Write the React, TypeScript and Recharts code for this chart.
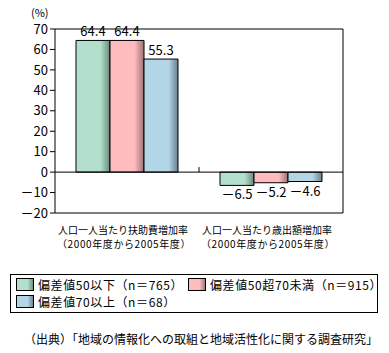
import { BarChart, Bar, XAxis, YAxis, ReferenceLine, LabelList } from "recharts";

const categories = [
  ["人口一人当たり扶助費増加率", "（2000年度から2005年度）"],
  ["人口一人当たり歳出額増加率", "（2000年度から2005年度）"],
];
const low = [64.4, -6.5];
const mid = [64.4, -5.2];
const high = [55.3, -4.6];
const seriesNames = ["偏差値50以下（n＝765）", "偏差値50超70未満（n＝915）", "偏差値70以上（n＝68）"];
const yTicks = [-20, -10, 0, 10, 20, 30, 40, 50, 60, 70];

const FONT = "'Noto Sans CJK JP', sans-serif";
const COLORS = [
  { id: "gLow", main: "#b3e0cd", dark: "#688a7b" },
  { id: "gMid", main: "#ffbcbe", dark: "#9c7476" },
  { id: "gHigh", main: "#b3d6e7", dark: "#687f8f" },
];

const data = categories.map((c, i) => ({ name: c.join("\n"), low: low[i], mid: mid[i], high: high[i] }));

const fmt = (v: number) => (v < 0 ? "－" + Math.abs(v) : String(v));

function ValueLabel(props: any) {
  const { x, y, width, height, value } = props;
  const top = Math.min(y, y + height);
  const bottom = Math.max(y, y + height);
  const cx = x + width / 2;
  if (value >= 0) {
    return (
      <text x={cx} y={top - 4} textAnchor="middle" fontSize={13} fill="#000" fontFamily={FONT}>
        {fmt(value)}
      </text>
    );
  }
  return (
    <text x={cx} y={bottom + 14} textAnchor="middle" fontSize={13} fill="#000" fontFamily={FONT}>
      {fmt(value)}
    </text>
  );
}

function CatTick(props: any) {
  const { x, y, payload } = props;
  const lines = String(payload.value).split("\n");
  return (
    <g>
      <text x={x - 4} y={y + 13} textAnchor="middle" fontSize={10} fill="#000" fontFamily={FONT}>
        {lines[0]}
      </text>
      <text x={x - 3} y={y + 27} textAnchor="middle" fontSize={10} letterSpacing={0.6} fill="#000" fontFamily={FONT}>
        {lines[1]}
      </text>
    </g>
  );
}

function ZeroLine(props: any) {
  const { x1, x2, y1 } = props;
  const midX = (x1 + x2) / 2;
  return (
    <g>
      <line x1={x1} x2={x2} y1={y1} y2={y1} stroke="#000" strokeWidth={1} />
      <line x1={midX} x2={midX} y1={y1 - 5} y2={y1} stroke="#000" strokeWidth={1} />
    </g>
  );
}

function Swatch({ c }: { c: { id: string; main: string; dark: string } }) {
  return (
    <svg width={18} height={13} style={{ verticalAlign: "-1px", marginRight: 4 }}>
      <defs>
        <linearGradient id={`${c.id}L`} x1="0" x2="1" y1="0" y2="0">
          <stop offset="0.65" stopColor={c.main} />
          <stop offset="1" stopColor={c.dark} />
        </linearGradient>
      </defs>
      <rect x={0.5} y={0.5} width={17} height={12} fill={`url(#${c.id}L)`} stroke="#000" />
    </svg>
  );
}

export default function App() {
  return (
    <div style={{ position: "absolute", left: 0, top: 0, width: 389, height: 353, background: "#fff", fontFamily: FONT }}>
      <div style={{ position: "absolute", left: 31, top: 5, fontSize: 11, lineHeight: "14px" }}>(%)</div>
      <BarChart
        width={389}
        height={250}
        data={data}
        margin={{ top: 29, right: 0, left: 0, bottom: 0 }}
        barGap={0}
        barSize={34}
      >
        <defs>
          {COLORS.map((c) => (
            <linearGradient key={c.id} id={c.id} x1="0" x2="1" y1="0" y2="0">
              <stop offset="0.72" stopColor={c.main} />
              <stop offset="1" stopColor={c.dark} />
            </linearGradient>
          ))}
        </defs>
        <XAxis
          dataKey="name"
          height={37}
          axisLine={{ stroke: "#000" }}
          tickLine={false}
          tick={<CatTick />}
          interval={0}
        />
        <YAxis
          width={55}
          domain={[-20, 70]}
          ticks={yTicks}
          interval={0}
          axisLine={{ stroke: "#000" }}
          tickLine={{ stroke: "#000" }}
          tickSize={5}
          tickFormatter={fmt}
          tick={{ fontSize: 13, fill: "#000", fontFamily: FONT }}
        />
        <YAxis
          yAxisId="right"
          orientation="right"
          width={46}
          domain={[-20, 70]}
          ticks={yTicks}
          tick={false}
          tickLine={false}
          axisLine={{ stroke: "#000" }}
        />
        <ReferenceLine y={70} stroke="#000" />
        <ReferenceLine y={0} shape={<ZeroLine />} />
        <Bar dataKey="low" name={seriesNames[0]} fill="url(#gLow)" stroke="#000" isAnimationActive={false}>
          <LabelList dataKey="low" content={<ValueLabel />} />
        </Bar>
        <Bar dataKey="mid" name={seriesNames[1]} fill="url(#gMid)" stroke="#000" isAnimationActive={false}>
          <LabelList dataKey="mid" content={<ValueLabel />} />
        </Bar>
        <Bar dataKey="high" name={seriesNames[2]} fill="url(#gHigh)" stroke="#000" isAnimationActive={false}>
          <LabelList dataKey="high" content={<ValueLabel />} />
        </Bar>
      </BarChart>
      <div
        style={{
          position: "absolute",
          left: 10,
          top: 274,
          width: 366,
          height: 37,
          border: "1px solid #000",
          fontSize: 12,
          letterSpacing: 0.6,
          lineHeight: "16px",
        }}
      >
        <div style={{ position: "absolute", left: 5, top: 2, whiteSpace: "nowrap" }}>
          <Swatch c={COLORS[0]} />
          {seriesNames[0]}
        </div>
        <div style={{ position: "absolute", left: 177, top: 2, whiteSpace: "nowrap" }}>
          <Swatch c={COLORS[1]} />
          {seriesNames[1]}
        </div>
        <div style={{ position: "absolute", left: 5, top: 19, whiteSpace: "nowrap" }}>
          <Swatch c={COLORS[2]} />
          {seriesNames[2]}
        </div>
      </div>
      <div style={{ position: "absolute", left: 24, top: 330, fontSize: 12, whiteSpace: "nowrap" }}>
        （出典）「地域の情報化への取組と地域活性化に関する調査研究」
      </div>
    </div>
  );
}
